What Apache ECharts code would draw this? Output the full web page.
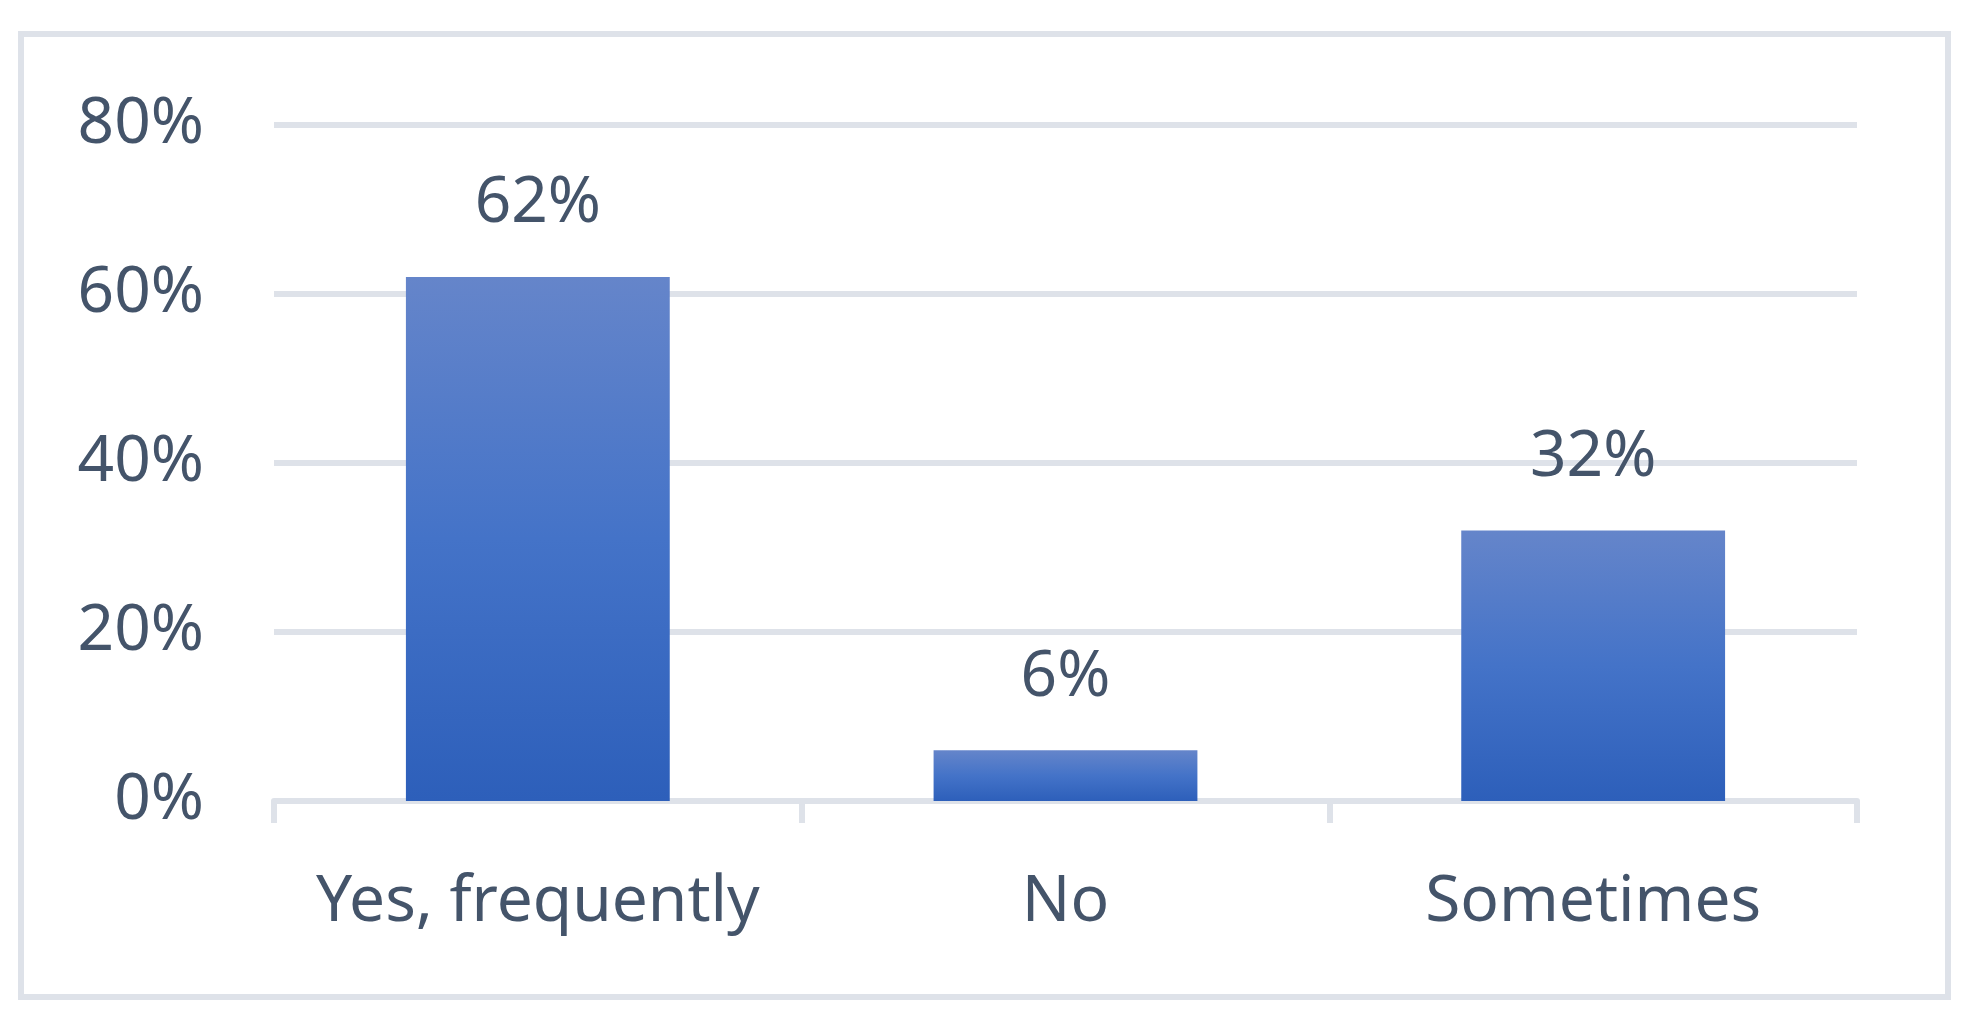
<!DOCTYPE html>
<html>
<head>
<meta charset="utf-8">
<script src="https://cdn.jsdelivr.net/npm/echarts@6/dist/echarts.min.js"></script>
<style>
html,body{margin:0;padding:0;background:#fff;}
#chart{width:1974px;height:1027px;}
</style>
</head>
<body>
<div id="chart"></div>
<script>
const categories = ['Yes, frequently', 'No', 'Sometimes'];
const values = [0.62, 0.06, 0.32];
const yTicks = [0, 0.2, 0.4, 0.6, 0.8];

const chart = echarts.init(document.getElementById('chart'));
const textColor = '#44546A';
const lineColor = '#DEE2E9';
const font = '"Noto Sans", "Open Sans", sans-serif';

chart.setOption({
  animation: false,
  backgroundColor: '#ffffff',
  graphic: [{
    type: 'rect',
    shape: { x: 21, y: 34, width: 1927, height: 963 },
    style: { fill: 'none', stroke: lineColor, lineWidth: 6 },
    silent: true
  }],
  grid: { left: 274, right: 117, top: 125, bottom: 226, containLabel: false },
  xAxis: {
    type: 'category',
    data: categories,
    axisLine: { show: true, lineStyle: { color: lineColor, width: 6 } },
    axisTick: { show: true, interval: 0, length: 22, lineStyle: { color: lineColor, width: 6 } },
    axisLabel: { interval: 0, color: textColor, fontSize: 64, fontFamily: font, margin: 70 }
  },
  yAxis: {
    type: 'value',
    min: yTicks[0],
    max: yTicks[yTicks.length - 1],
    interval: 0.2,
    axisLine: { show: false },
    axisTick: { show: false },
    splitLine: { show: true, lineStyle: { color: lineColor, width: 6 } },
    axisLabel: {
      color: textColor, fontSize: 64, fontFamily: font, margin: 70,
      padding: [8, 0, 0, 0],
      formatter: v => Math.round(v * 100) + '%'
    }
  },
  series: [{
    type: 'bar',
    data: values,
    barWidth: '50%',
    itemStyle: {
      color: new echarts.graphic.LinearGradient(0, 0, 0, 1, [
        { offset: 0, color: '#6585CA' },
        { offset: 0.5, color: '#4473C8' },
        { offset: 1, color: '#2D5FBA' }
      ])
    },
    label: {
      show: true,
      position: 'top',
      distance: 41,
      color: textColor,
      fontSize: 64,
      fontFamily: font,
      formatter: p => Math.round(p.value * 100) + '%'
    }
  }]
});
</script>
</body>
</html>
